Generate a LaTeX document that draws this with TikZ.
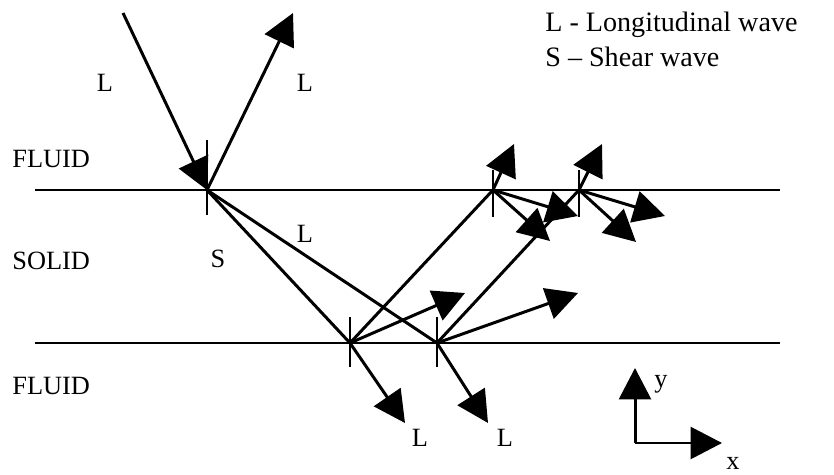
\documentclass[tikz,border=0pt]{standalone}
\usepackage{fontspec}
\setmainfont{Liberation Serif}
\usetikzlibrary{arrows.meta, calc}

\begin{document}
\begin{tikzpicture}[
  x=0.02cm, y=-0.02cm,
  ray/.style={line width=1.7pt},
  wave/.style={ray, -{Triangle[length=0.63cm, width=0.64cm]}},
  tickline/.style={line width=0.6pt},
  lbl/.style={font=\fontsize{15}{18}\selectfont, inner sep=0pt, anchor=base},
  side/.style={lbl, anchor=base west},
  legend/.style={font=\fontsize{16}{19}\selectfont, inner sep=0pt, anchor=base west}
]
  \useasboundingbox (0,0) rectangle (834,475);

  \coordinate (tl) at (35,190);
  \coordinate (tr) at (780,190);
  \coordinate (bl) at (35,343);
  \coordinate (br) at (780,343);

  \coordinate (src) at (123,13);
  \coordinate (p1) at (207,190);
  \coordinate (p2) at (350,343);
  \coordinate (p3) at (437,343);
  \coordinate (p4) at (493,190);
  \coordinate (p5) at (579,190);

  \coordinate (r1) at (293,13);
  \coordinate (t2) at (405,423);
  \coordinate (t3) at (488,423);
  \coordinate (s2) at (465,293);
  \coordinate (s3) at (578,293);
  \coordinate (u4) at (514,144);
  \coordinate (a4) at (578,216);
  \coordinate (b4) at (550,241);
  \coordinate (u5) at (602,144);
  \coordinate (a5) at (665,216);
  \coordinate (b5) at (636,242);

  \coordinate (o) at (635,443);
  \coordinate (ya) at (635,368);
  \coordinate (xa) at (722,443);

  \draw[ray] (tl) -- (tr);
  \draw[ray] (bl) -- (br);

  \draw[tickline] ($(p1)+(0,-50)$) -- ($(p1)+(0,25)$);
  \draw[tickline] ($(p2)+(0,-26)$) -- ($(p2)+(0,24)$);
  \draw[tickline] ($(p3)+(0,-26)$) -- ($(p3)+(0,24)$);
  \draw[tickline] ($(p4)+(0,-20)$) -- ($(p4)+(0,27)$);
  \draw[tickline] ($(p5)+(0,-20)$) -- ($(p5)+(0,27)$);

  \draw[wave] (src) -- (p1);
  \draw[wave] (p1) -- (r1);
  \draw[ray] (p1) -- (p2);
  \draw[ray] (p1) -- (p3);

  \draw[wave] (p2) -- (t2);
  \draw[wave] (p3) -- (t3);
  \draw[wave] (p2) -- (s2);
  \draw[wave] (p3) -- (s3);
  \draw[ray] (p2) -- (p4);
  \draw[ray] (p3) -- (p5);

  \draw[wave] (p4) -- (u4);
  \draw[wave] (p4) -- (a4);
  \draw[wave] (p4) -- (b4);
  \draw[wave] (p5) -- (u5);
  \draw[wave] (p5) -- (a5);
  \draw[wave] (p5) -- (b5);

  \draw[wave] (o) -- (ya);
  \draw[wave] (o) -- (xa);

  \node[lbl] (inL) at (105,92) {L};
  \node[lbl] (reL) at (305,92) {L};
  \node[lbl] (sS) at (218,268) {S};
  \node[lbl] (sL) at (305,243) {L};
  \node[lbl] (tL2) at (420,447) {L};
  \node[lbl] (tL3) at (505,447) {L};
  \node[lbl] (ylab) at (661,388) {y};
  \node[lbl] (xlab) at (733,470) {x};

  \node[side] (fluidtop) at (12,168) {FLUID};
  \node[side] (solid) at (12,270) {SOLID};
  \node[side] (fluidbot) at (12,395) {FLUID};

  \node[legend] (legL) at (545,32) {L - Longitudinal wave};
  \node[legend] (legS) at (545,67) {S -- Shear wave};
\end{tikzpicture}
\end{document}
